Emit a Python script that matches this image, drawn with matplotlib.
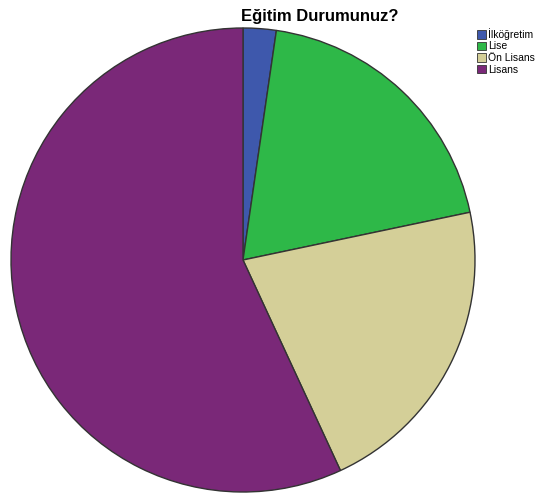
import matplotlib.pyplot as plt
from matplotlib.patches import Patch

plt.rcParams['font.family'] = ['Liberation Sans', 'DejaVu Sans']

# Share of answers per education level (percent)
labels = ['İlköğretim', 'Lise', 'Ön Lisans', 'Lisans']
values = [2.3, 19.4, 21.4, 56.9]
colors = ['#3e58ac', '#2eb848', '#d4cf98', '#7a2878']

fig = plt.figure(figsize=(5.38, 4.97), dpi=100)
ax = fig.add_axes([11 / 538, 5 / 497, 464 / 538, 464 / 497])
ax.pie(values, colors=colors, startangle=90, counterclock=False,
       wedgeprops=dict(edgecolor='#333333', linewidth=1.0))
ax.set_xlim(-1, 1)
ax.set_ylim(-1, 1)
ax.set_aspect('equal')
ax.axis('off')

fig.text(320 / 538, 1 - 16 / 497, 'Eğitim Durumunuz?', ha='center', va='center',
         fontsize=12, fontweight='bold')

handles = [Patch(facecolor=c, edgecolor='#333333', linewidth=0.6) for c in colors]
fig.legend(handles, labels, loc='upper left', bbox_to_anchor=(477 / 538, 1 - 28 / 497),
           frameon=False, fontsize=7.5, handlelength=0.9, handleheight=0.9,
           handletextpad=0.2, labelspacing=0.15, borderpad=0, borderaxespad=0)

fig.savefig('out.png', dpi=100)
